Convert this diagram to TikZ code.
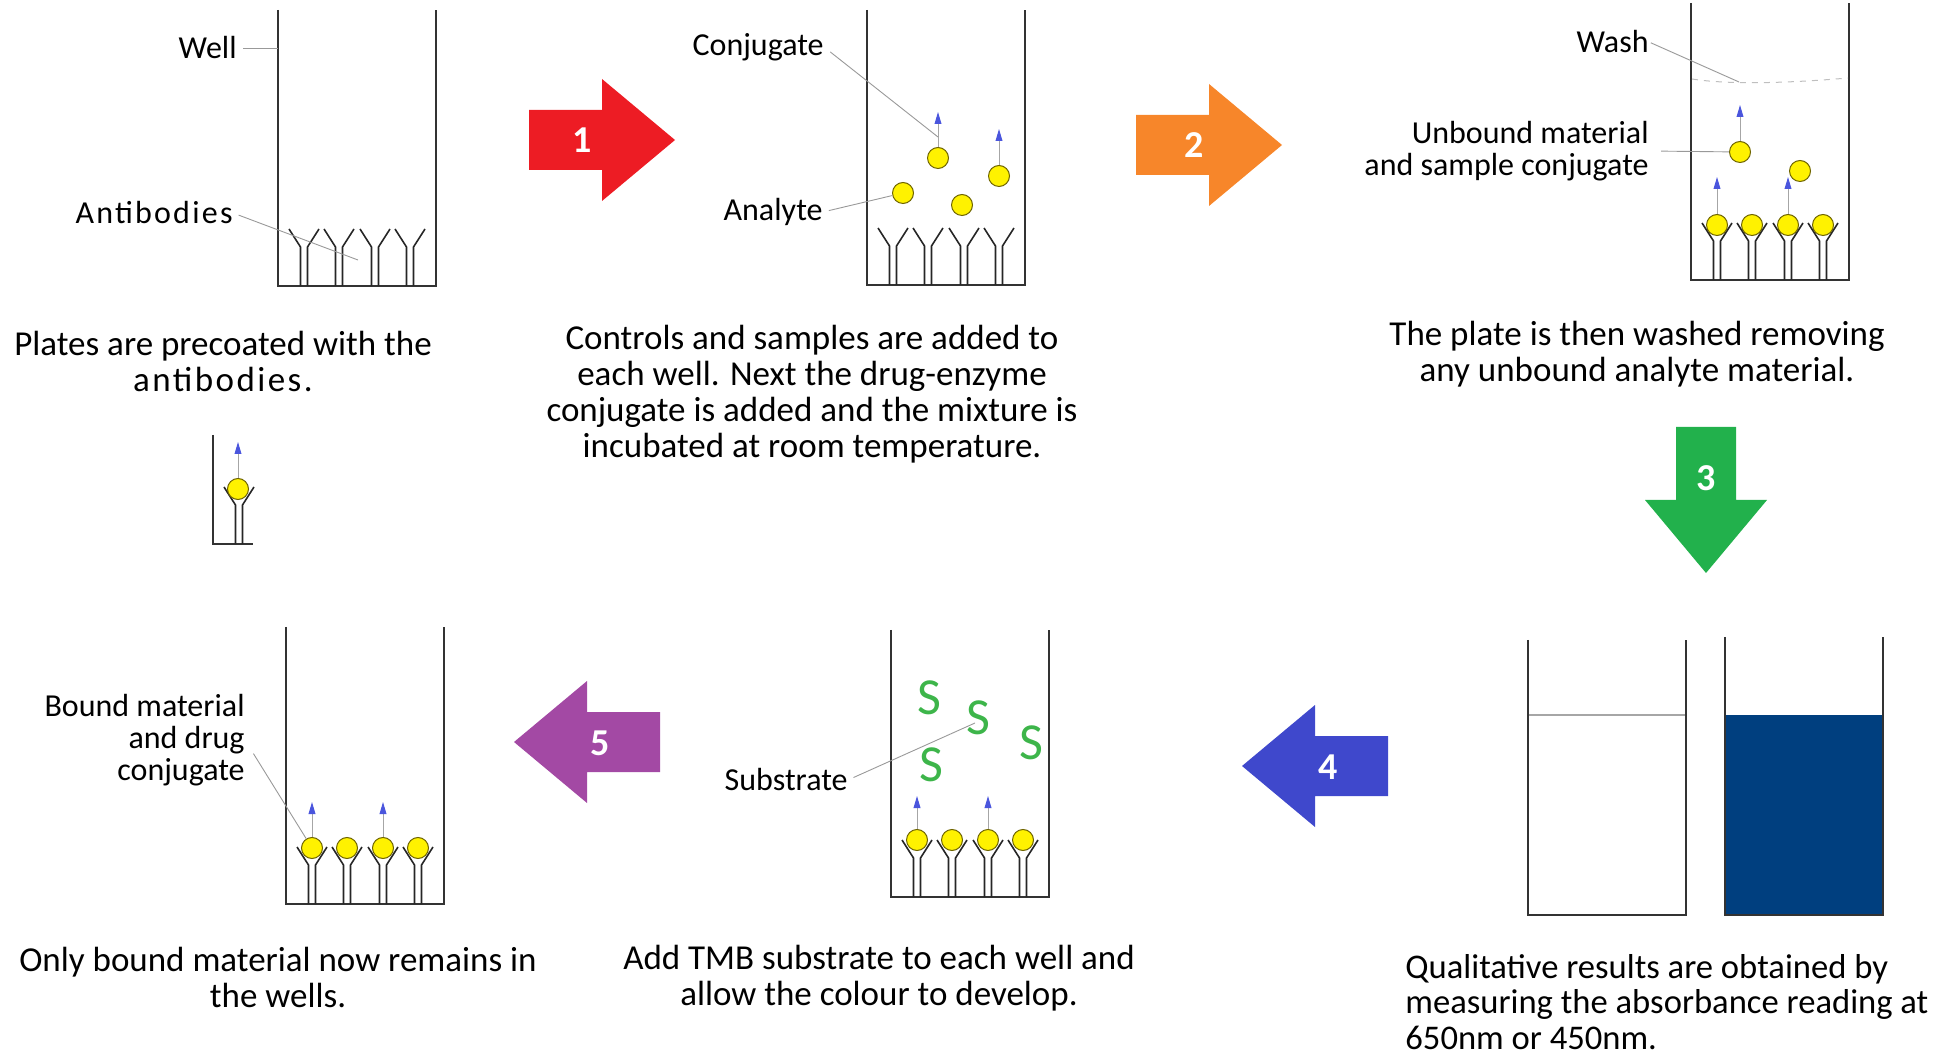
\documentclass[tikz,border=0pt]{standalone}
\usepackage{fontspec}
\setmainfont{Carlito}
\usetikzlibrary{arrows.meta}

\definecolor{stepred}{HTML}{ED1C24}
\definecolor{steporange}{HTML}{F7862A}
\definecolor{stepgreen}{HTML}{22B14C}
\definecolor{stepblue}{HTML}{3F48CC}
\definecolor{steppurple}{HTML}{A349A4}
\definecolor{drugyellow}{HTML}{FFF200}
\definecolor{drugedge}{HTML}{6E6400}
\definecolor{enzymeblue}{HTML}{4A55DD}
\definecolor{substrategreen}{HTML}{3DB54A}
\definecolor{readblue}{HTML}{003F7F}

% open well: left x, top y, bottom y
\newcommand{\wellwalls}[3]{\draw[wall] (#1,#2) -- (#1,#3) -- ({#1+158},#3) -- ({#1+158},#2);}
% four antibodies coated on the floor of a well
\newcommand{\coated}[2]{\foreach \dx in {26,61,97,132} {\pic at ({#1+\dx},#2) {antibody};}}
\newcommand{\spaced}{\addfontfeature{LetterSpace=7}}

\tikzset{
  pics/antibody/.style={code={
      \draw[abline] (-3.5,0) -- (-3.5,-39) -- (-15,-57);
      \draw[abline] (3.5,0) -- (3.5,-39) -- (15,-57);
  }},
  pics/steparrow/.style={code={
      \fill[#1] (-73,-30) -- (0,-30) -- (0,-61) -- (73,0) -- (0,61) -- (0,30) -- (-73,30) -- cycle;
  }}
}

\begin{document}
\begin{tikzpicture}[x=0.5pt,y=-0.5pt,
    wall/.style={draw=black!80,line width=1pt},
    abline/.style={draw=black!85,line width=0.8pt},
    leader/.style={draw=black!40,line width=0.45pt},
    wash/.style={draw=black!25,dashed,line width=0.5pt},
    enzymetag/.style={draw=black!35,line width=0.5pt,-{Triangle[length=6pt,width=3.4pt,color=enzymeblue]}},
    callout/.style={font=\fontsize{16}{16}\selectfont,inner sep=0pt,anchor=east},
    steptext/.style={font=\fontsize{17.5}{18}\selectfont,align=center,inner sep=0pt},
    stepnum/.style={font=\bfseries\fontsize{19}{20}\selectfont,text=white,inner sep=0pt}]
  \useasboundingbox (0,0) rectangle (1944,1058);
  \tikzstyle{drug}=[circle,draw=drugedge,line width=0.5pt,fill=drugyellow,minimum size=10.5pt,inner sep=0pt]
  \tikzstyle{substrate}=[font=\fontsize{26}{26}\selectfont,text=substrategreen,inner sep=0pt]

  % Wells
  \wellwalls{278}{10}{286}  \coated{278}{286}
  \wellwalls{867}{10}{285}  \coated{867}{285}
  \wellwalls{1691}{3}{280}  \coated{1691}{280}
  \wellwalls{891}{630}{897} \coated{891}{897}
  \wellwalls{286}{627}{904} \coated{286}{904}

  % Single antibody with bound conjugate
  \draw[wall] (213,435) -- (213,544) -- (253,544);
  \pic at (239,544) {antibody};
  \node[drug] (b0) at (238,489) {};
  \draw[enzymetag] (b0.north) -- ++(0,-36);

  % Conjugate and analyte
  \node[drug] (c1) at (938,158) {};
  \node[drug] (c2) at (903,193) {};
  \node[drug] (c3) at (962,205) {};
  \node[drug] (c4) at (999,176) {};
  \draw[enzymetag] (c1.north) -- ++(0,-35);
  \draw[enzymetag] (c4.north) -- ++(0,-36);

  % Wash
  \draw[wash] (1692,79) .. controls (1730,85) and (1790,83) .. (1848,78);
  \foreach \dx/\k in {26/a,61/b,97/c,132/d}
    \node[drug] (w3\k) at ({1691+\dx},225) {};
  \node[drug] (u1) at (1740,152) {};
  \node[drug] (u2) at (1800,171) {};
  \draw[enzymetag] (w3a.north) -- ++(0,-37);
  \draw[enzymetag] (w3c.north) -- ++(0,-37);
  \draw[enzymetag] (u1.north) -- ++(0,-36);

  % Substrate
  \foreach \dx/\k in {26/a,61/b,97/c,132/d}
    \node[drug] (w4\k) at ({891+\dx},840) {};
  \draw[enzymetag] (w4a.north) -- ++(0,-33);
  \draw[enzymetag] (w4c.north) -- ++(0,-33);
  \coordinate (sEnd) at (975,723);

  % Bound material left in the wells
  \foreach \dx/\k in {26/a,61/b,97/c,132/d}
    \node[drug] (w5\k) at ({286+\dx},848) {};
  \draw[enzymetag] (w5a.north) -- ++(0,-35);
  \draw[enzymetag] (w5c.north) -- ++(0,-35);

  % Read-out wells
  \fill[readblue] (1725,715) rectangle (1883,915);
  \wellwalls{1528}{640}{915}
  \wellwalls{1725}{637}{915}
  \draw[black!35,line width=0.6pt] (1529,715) -- (1685,715);

  % Labels
  \coordinate (wallPt) at (278,48);
  \coordinate (abPt) at (358,260);
  \coordinate (conjPt) at (938,137);
  \coordinate (washPt) at (1739,82);
  \node[callout] (lWell) at (237,48) {Well};
  \node[callout] (lAb) at (233,213) {\spaced Antibodies};
  \node[callout] (lConj) at (824,47) {Conjugate};
  \node[callout] (lAnalyte) at (823,212) {Analyte};
  \node[callout] (lWash) at (1649,42) {Wash};
  \node[callout,align=right] (lUnbound) at (1649,151) {Unbound material\\and sample conjugate};
  \node[callout,align=right] (lBound) at (245,740) {Bound material\\and drug\\conjugate};
  \node[callout] (lSubs) at (848,780) {Substrate};
  \draw[leader,shorten <=3pt] (lWell.east) -- (wallPt);
  \draw[leader,shorten <=3pt] (lAb.east) -- (abPt);
  \draw[leader,shorten <=4pt] (lConj.east) -- (conjPt);
  \draw[leader,shorten <=3pt] (lAnalyte.east) -- (c2);
  \draw[leader,shorten <=1pt] (lWash.east) -- (washPt);
  \draw[leader,shorten <=6pt] (lUnbound.east) -- (u1);
  \draw[leader,shorten <=8pt] (lBound.east) -- (w5a);
  \draw[leader,shorten <=3pt] (lSubs.east) -- (sEnd);

  % Substrate letters
  \node[substrate] (s1) at (929,698) {S};
  \node[substrate] (s2) at (978,718) {S};
  \node[substrate] (s3) at (1031,743) {S};
  \node[substrate] (s4) at (931,765) {S};

  % Step arrows
  \pic at (602,140) {steparrow=stepred};
  \node[stepnum] (n1) at (582,140) {1};
  \pic at (1209,145) {steparrow=steporange};
  \node[stepnum] (n2) at (1194,145) {2};
  \pic[rotate=-90] at (1706,500) {steparrow=stepgreen};
  \node[stepnum] (n3) at (1706,478) {3};
  \pic[rotate=180] at (1315,766) {steparrow=stepblue};
  \node[stepnum] (n4) at (1328,767) {4};
  \pic[rotate=180] at (587,742) {steparrow=steppurple};
  \node[stepnum] (n5) at (600,743) {5};

  % Step descriptions
  \node[steptext] (t1) at (223,361) {Plates are precoated with the\\{\spaced antibodies.}};
  \node[steptext] (t2) at (812,394) {Controls and samples are added to\\each well. Next the drug-enzyme\\conjugate is added and the mixture is\\incubated at room temperature.};
  \node[steptext] (t3) at (1637,354) {The plate is then washed removing\\any unbound analyte material.};
  \node[steptext] (t4) at (879,978) {Add TMB substrate to each well and\\allow the colour to develop.};
  \node[steptext] (t5) at (278,977) {Only bound material now remains in\\the wells.};
  \node[steptext,align=left,anchor=west,font=\fontsize{17.3}{17.6}\selectfont] (t6) at (1405,1002) {Qualitative results are obtained by\\measuring the absorbance reading at\\650nm or 450nm.};
\end{tikzpicture}
\end{document}
